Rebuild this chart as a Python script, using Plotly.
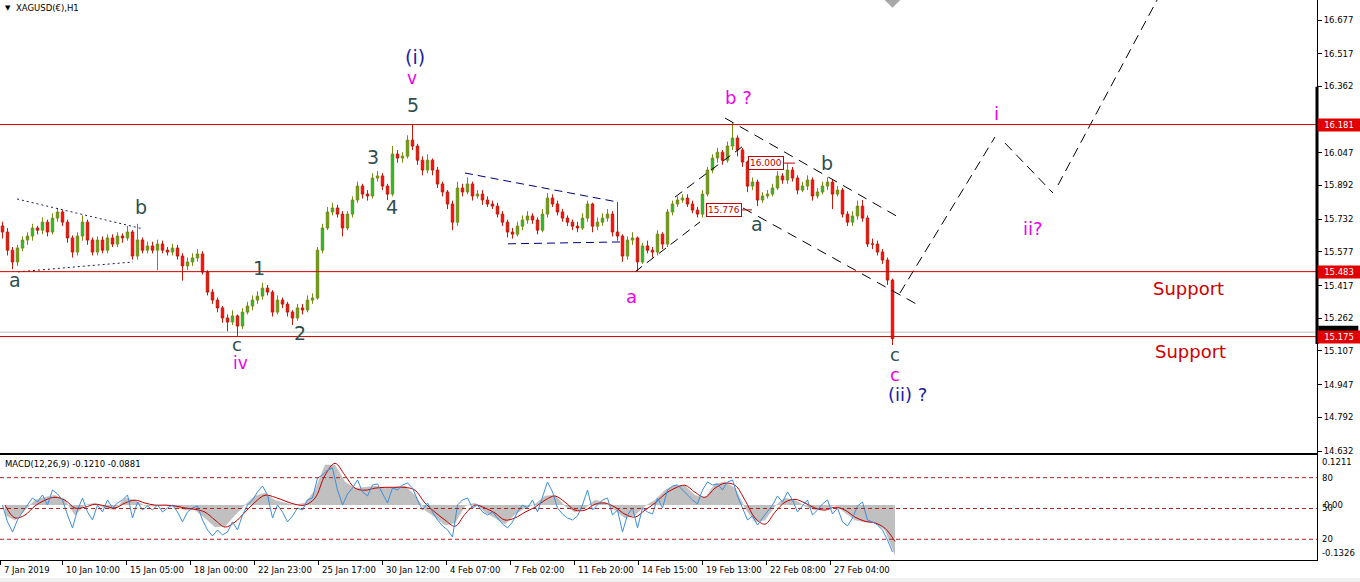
import plotly.graph_objects as go

# ---------------- DATA ----------------
HOURS_PER_BAR = 5          # each drawn candle summarises ~5 H1 bars
first_open = 15.70

close = [15.671, 15.585, 15.529, 15.595, 15.633, 15.652, 15.690, 15.680, 15.718, 15.671,
         15.737, 15.766, 15.718, 15.643, 15.576, 15.652, 15.718, 15.633, 15.576, 15.633,
         15.585, 15.643, 15.614, 15.652, 15.643, 15.671, 15.557, 15.633, 15.585, 15.605,
         15.585, 15.614, 15.585, 15.576, 15.595, 15.557, 15.510, 15.529, 15.548, 15.567,
         15.481, 15.386, 15.348, 15.311, 15.263, 15.244, 15.273, 15.225, 15.291, 15.320,
         15.348, 15.367, 15.405, 15.386, 15.291, 15.348, 15.329, 15.291, 15.263, 15.311,
         15.301, 15.348, 15.358, 15.585, 15.690, 15.766, 15.785, 15.756, 15.690, 15.756,
         15.823, 15.889, 15.851, 15.842, 15.927, 15.937, 15.889, 15.851, 16.041, 16.022,
         16.031, 16.107, 16.079, 16.012, 15.965, 16.012, 15.965, 15.899, 15.861, 15.804,
         15.718, 15.880, 15.861, 15.899, 15.842, 15.851, 15.823, 15.804, 15.794, 15.756,
         15.718, 15.671, 15.661, 15.699, 15.728, 15.747, 15.728, 15.680, 15.756, 15.832,
         15.804, 15.766, 15.737, 15.718, 15.699, 15.690, 15.737, 15.804, 15.699, 15.718,
         15.737, 15.756, 15.671, 15.652, 15.557, 15.633, 15.643, 15.529, 15.605, 15.585,
         15.576, 15.661, 15.614, 15.766, 15.804, 15.823, 15.832, 15.804, 15.775, 15.756,
         15.851, 15.965, 16.022, 16.050, 16.012, 16.079, 16.117, 16.060, 16.003, 15.889,
         15.908, 15.823, 15.842, 15.851, 15.880, 15.937, 15.918, 15.965, 15.927, 15.870,
         15.889, 15.918, 15.842, 15.861, 15.889, 15.908, 15.851, 15.870, 15.756, 15.718,
         15.747, 15.794, 15.737, 15.614, 15.614, 15.576, 15.538, 15.443, 15.165]

high = [15.72, 15.69, 15.60, 15.61, 15.65, 15.67, 15.71, 15.70, 15.74, 15.73,
        15.76, 15.785, 15.775, 15.73, 15.655, 15.67, 15.75, 15.73, 15.645, 15.65,
        15.65, 15.66, 15.66, 15.67, 15.665, 15.70, 15.68, 15.71, 15.645, 15.625,
        15.625, 15.635, 15.63, 15.60, 15.615, 15.61, 15.57, 15.55, 15.57, 15.59,
        15.58, 15.49, 15.40, 15.36, 15.32, 15.28, 15.30, 15.28, 15.31, 15.34,
        15.37, 15.39, 15.43, 15.42, 15.395, 15.37, 15.36, 15.34, 15.30, 15.33,
        15.33, 15.37, 15.38, 15.60, 15.71, 15.79, 15.81, 15.80, 15.77, 15.77,
        15.84, 15.91, 15.90, 15.87, 15.95, 15.96, 15.95, 15.90, 16.08, 16.06,
        16.05, 16.13, 16.181, 16.09, 16.03, 16.04, 16.02, 15.98, 15.91, 15.87,
        15.82, 15.91, 15.90, 15.93, 15.91, 15.87, 15.87, 15.84, 15.82, 15.81,
        15.77, 15.73, 15.69, 15.72, 15.75, 15.77, 15.76, 15.74, 15.78, 15.856,
        15.85, 15.82, 15.78, 15.75, 15.73, 15.72, 15.76, 15.82, 15.81, 15.74,
        15.76, 15.78, 15.77, 15.813, 15.66, 15.65, 15.67, 15.65, 15.62, 15.63,
        15.60, 15.68, 15.67, 15.78, 15.82, 15.84, 15.85, 15.85, 15.82, 15.79,
        15.87, 15.98, 16.04, 16.07, 16.06, 16.10, 16.193, 16.13, 16.07, 16.01,
        15.93, 15.92, 15.86, 15.87, 15.90, 15.96, 15.95, 15.998, 15.98, 15.94,
        15.91, 15.94, 15.93, 15.88, 15.91, 15.93, 15.92, 15.89, 15.88, 15.77,
        15.77, 15.82, 15.823, 15.75, 15.64, 15.63, 15.59, 15.55, 15.45]

low = [15.64, 15.56, 15.495, 15.51, 15.58, 15.61, 15.63, 15.66, 15.66, 15.65,
       15.66, 15.72, 15.70, 15.62, 15.55, 15.56, 15.63, 15.61, 15.56, 15.56,
       15.57, 15.57, 15.60, 15.60, 15.62, 15.63, 15.54, 15.54, 15.57, 15.57,
       15.57, 15.49, 15.57, 15.56, 15.56, 15.54, 15.44, 15.49, 15.51, 15.53,
       15.47, 15.37, 15.33, 15.29, 15.24, 15.20, 15.23, 15.178, 15.21, 15.28,
       15.30, 15.33, 15.35, 15.37, 15.27, 15.28, 15.31, 15.27, 15.23, 15.25,
       15.28, 15.29, 15.33, 15.35, 15.57, 15.68, 15.75, 15.74, 15.65, 15.68,
       15.74, 15.81, 15.83, 15.82, 15.83, 15.91, 15.87, 15.823, 15.84, 16.00,
       16.00, 16.02, 16.06, 15.99, 15.94, 15.95, 15.94, 15.88, 15.84, 15.78,
       15.68, 15.70, 15.84, 15.85, 15.82, 15.83, 15.80, 15.79, 15.78, 15.74,
       15.70, 15.645, 15.64, 15.65, 15.68, 15.71, 15.71, 15.66, 15.67, 15.74,
       15.79, 15.75, 15.72, 15.70, 15.68, 15.67, 15.68, 15.72, 15.67, 15.68,
       15.70, 15.72, 15.65, 15.63, 15.53, 15.54, 15.61, 15.486, 15.52, 15.57,
       15.55, 15.56, 15.59, 15.60, 15.75, 15.79, 15.81, 15.79, 15.76, 15.74,
       15.74, 15.84, 15.95, 16.00, 15.99, 16.00, 16.06, 16.03, 15.98, 15.86,
       15.87, 15.794, 15.81, 15.83, 15.84, 15.87, 15.90, 15.90, 15.91, 15.85,
       15.86, 15.87, 15.82, 15.83, 15.85, 15.87, 15.78, 15.84, 15.74, 15.70,
       15.70, 15.73, 15.72, 15.60, 15.59, 15.56, 15.52, 15.42, 15.135]

# MACD(12,26,9) window, sampled every 10 hours
MACD_STEP = 10
macd_main = [-0.024, -0.036, -0.012, 0.012, 0.019, 0.024, 0.012, -0.024, 0.000, 0.005,
             -0.007, -0.012, 0.017, 0.012, -0.002, -0.002, 0.000, -0.005, -0.012, -0.012,
             -0.031, -0.053, -0.051, -0.024, 0.000, 0.022, 0.029, 0.012, 0.005, 0.000,
             0.005, 0.036, 0.097, 0.097, 0.056, 0.041, 0.043, 0.046, 0.041, 0.043,
             0.046, 0.024, -0.012, -0.029, -0.048, -0.043, -0.002, 0.005, -0.017, -0.031,
             -0.046, -0.022, -0.007, 0.002, 0.022, 0.024, -0.002, -0.017, -0.007, 0.012,
             0.007, -0.012, -0.031, -0.024, -0.002, 0.012, 0.036, 0.048, 0.046, 0.024,
             0.017, 0.051, 0.056, 0.041, -0.007, -0.041, -0.036, -0.002, 0.017, 0.012,
             -0.002, -0.012, -0.010, 0.000, -0.019, -0.036, -0.041, -0.043, -0.060, -0.121]
macd_signal = [0.000, -0.031, -0.024, -0.002, 0.012, 0.019, 0.012, -0.007, -0.005, 0.002,
               -0.002, -0.007, 0.005, 0.012, 0.005, 0.000, 0.000, -0.002, -0.007, -0.010,
               -0.017, -0.036, -0.053, -0.041, -0.017, 0.007, 0.024, 0.019, 0.010, 0.002,
               0.000, 0.017, 0.072, 0.101, 0.072, 0.041, 0.036, 0.041, 0.043, 0.043,
               0.043, 0.036, 0.005, -0.017, -0.036, -0.051, -0.022, 0.000, -0.007, -0.019,
               -0.036, -0.031, -0.017, -0.005, 0.012, 0.022, 0.007, -0.012, -0.012, 0.002,
               0.005, -0.005, -0.022, -0.029, -0.012, 0.005, 0.027, 0.041, 0.048, 0.031,
               0.019, 0.041, 0.053, 0.048, 0.012, -0.031, -0.046, -0.017, 0.007, 0.014,
               0.005, -0.007, -0.012, -0.005, -0.012, -0.029, -0.039, -0.043, -0.056, -0.088]
# blue 0-100 oscillator drawn in the same window (levels 80/50/20)
oscillator = [53.4, 36.9, 27.1, 38.8, 46.6, 53.4, 60.2, 56.3, 63.2, 53.4,
              68.0, 64.1, 58.3, 43.7, 31.0, 48.5, 60.2, 46.6, 38.8, 53.4,
              46.6, 58.3, 50.5, 55.4, 58.3, 63.2, 40.7, 56.3, 48.5, 52.4,
              48.5, 53.4, 46.6, 50.5, 53.4, 46.6, 36.9, 46.6, 50.5, 52.4,
              38.8, 29.1, 23.2, 29.1, 24.2, 27.1, 36.9, 29.1, 43.7, 53.4,
              58.3, 66.1, 71.9, 63.2, 40.7, 53.4, 46.6, 36.9, 42.7, 50.5,
              48.5, 58.3, 60.2, 79.7, 82.6, 87.5, 89.4, 68.0, 53.4, 64.1,
              70.0, 77.8, 66.1, 62.2, 72.9, 73.9, 64.1, 55.4, 70.0, 68.0,
              72.9, 74.8, 70.0, 58.3, 48.5, 55.4, 46.6, 38.8, 33.0, 29.1,
              22.2, 53.4, 58.3, 60.2, 50.5, 53.4, 46.6, 43.7, 46.6, 40.7,
              34.9, 31.0, 36.9, 46.6, 53.4, 50.5, 58.3, 46.6, 60.2, 75.8,
              66.1, 50.5, 44.6, 40.7, 38.8, 42.7, 53.4, 68.0, 48.5, 53.4,
              58.3, 60.2, 43.7, 48.5, 27.1, 43.7, 50.5, 31.0, 50.5, 46.6,
              44.6, 60.2, 50.5, 68.0, 71.9, 72.9, 68.0, 63.2, 58.3, 54.4,
              68.0, 75.8, 72.9, 73.9, 68.0, 75.8, 77.8, 62.2, 50.5, 38.8,
              42.7, 33.9, 40.7, 46.6, 53.4, 62.2, 56.3, 66.1, 58.3, 46.6,
              52.4, 58.3, 43.7, 48.5, 54.4, 58.3, 44.6, 50.5, 36.9, 33.0,
              40.7, 52.4, 56.3, 38.8, 36.9, 33.9, 29.1, 19.3, 7.6]
osc_levels = [80, 50, 20]

# time axis (hour index of each label)
time_labels = ["7 Jan 2019", "10 Jan 10:00", "15 Jan 05:00", "18 Jan 00:00", "22 Jan 23:00",
               "25 Jan 17:00", "30 Jan 12:00", "4 Feb 07:00", "7 Feb 02:00", "11 Feb 20:00",
               "14 Feb 15:00", "19 Feb 13:00", "22 Feb 08:00", "27 Feb 04:00"]
time_pos = [0, 62, 126, 190, 254, 318, 382, 446, 510, 574, 638, 702, 766, 830]

# price axis (16.202 sits hidden behind the 16.181 level tag)
price_ticks = [16.677, 16.517, 16.362, 16.202, 16.047, 15.892, 15.732, 15.577, 15.417,
               15.262, 15.107, 14.947, 14.792, 14.632]
hidden_ticks = [16.202]
levels = [16.181, 15.483, 15.175]   # red horizontal lines
bid_price = 15.196

# wave labels: text, hour index, price, colour key, size
DARK, MAG, NAVY, RED = "#2F4F4F", "#EE00EE", "#1C1CA0", "#D00000"
wave_labels = [
    ("(i)", 415, 16.501, NAVY, 19), ("v", 412, 16.401, MAG, 17), ("5", 413, 16.273, DARK, 19),
    ("3", 373, 16.027, DARK, 19), ("4", 392, 15.789, DARK, 19), ("b", 141, 15.789, DARK, 19),
    ("a", 15, 15.443, DARK, 19), ("1", 259, 15.500, DARK, 19), ("2", 300, 15.192, DARK, 19),
    ("c", 237, 15.135, DARK, 18), ("iv", 240, 15.050, MAG, 17), ("a", 631, 15.363, MAG, 18),
    ("b ?", 738, 16.311, MAG, 18), ("a", 757, 15.709, DARK, 19), ("b", 827, 15.998, DARK, 19),
    ("c", 895, 15.092, DARK, 18), ("c", 895, 14.997, MAG, 18), ("(ii) ?", 907, 14.902, NAVY, 18),
    ("i", 996, 16.235, MAG, 18), ("ii?", 1033, 15.690, MAG, 18),
    ("Support", 1188, 15.405, RED, 18), ("Support", 1190, 15.106, RED, 18),
]

# drawn trend / projection lines: (hours, prices, colour, dash)
trend_lines = [
    ([17, 143], [15.828, 15.686], "#1A1A50", "2px,3px"),
    ([18, 133], [15.482, 15.529], "#1A1A50", "2px,3px"),
    ([465, 617], [15.951, 15.814], "#00007A", "8px,5px"),
    ([508, 620], [15.615, 15.624], "#00007A", "8px,5px"),
    ([635, 700], [15.482, 15.719], "black", "9px,6px"),
    ([675, 742], [15.837, 16.075], "black", "9px,6px"),
    ([725, 898], [16.212, 15.743], "black", "10px,7px"),
    ([743, 920], [15.785, 15.320], "black", "10px,7px"),
    ([900, 995], [15.382, 16.122], "black", "10px,6px"),
    ([1005, 1053], [16.093, 15.856], "black", "10px,6px"),
    ([1058, 1200], [15.894, 17.152], "black", "10px,6px"),
]
# price-label objects: text, hour centre, price, tail end hour
price_tags = [("16.000", 766, 15.998, 795), ("15.776", 724, 15.776, 752)]

# ---------------- FIGURE ----------------
x_bars = [HOURS_PER_BAR * i + HOURS_PER_BAR / 2 for i in range(len(close))]
opens = [first_open] + close[:-1]
x_macd = [MACD_STEP * i + MACD_STEP / 2 for i in range(len(macd_main))]

fig = go.Figure()
fig.add_trace(go.Candlestick(
    x=x_bars, open=opens, high=high, low=low, close=close,
    increasing=dict(line=dict(color="#7A8A10", width=1), fillcolor="#2EB82E"),
    decreasing=dict(line=dict(color="#C41A0A", width=1), fillcolor="#FF1010"),
    whiskerwidth=0, hoverinfo="skip", xaxis="x", yaxis="y"))

for xs, ys, col, dash in trend_lines:
    fig.add_trace(go.Scatter(x=xs, y=ys, mode="lines", hoverinfo="skip",
                             line=dict(color=col, width=1, dash=dash), xaxis="x", yaxis="y"))

for txt, xc, pr, xe in price_tags:
    fig.add_trace(go.Scatter(x=[xc + 17, xe], y=[pr, pr], mode="lines", hoverinfo="skip",
                             line=dict(color="#C00000", width=1), xaxis="x", yaxis="y"))

# shift marker at top
fig.add_trace(go.Scatter(x=[x_bars[-1]], y=[16.772], mode="markers", hoverinfo="skip",
                         marker=dict(symbol="diamond", size=12, color="#A8A8A8"),
                         xaxis="x", yaxis="y", cliponaxis=True))

# MACD window
fig.add_trace(go.Scatter(x=x_macd, y=macd_main, mode="lines", fill="tozeroy",
                         fillcolor="#C0C0C0", line=dict(color="#C0C0C0", width=0.5),
                         hoverinfo="skip", xaxis="x2", yaxis="y2"))
fig.add_trace(go.Scatter(x=x_macd, y=macd_signal, mode="lines", line=dict(color="#C00000", width=1),
                         line_shape="spline", hoverinfo="skip", xaxis="x2", yaxis="y2"))
fig.add_trace(go.Scatter(x=x_bars, y=oscillator, mode="lines", line=dict(color="#3C8EDB", width=1),
                         hoverinfo="skip", xaxis="x2", yaxis="y3"))

FONT = "DejaVu Sans"
axis_font = dict(family=FONT, size=8.5, color="black")
TAG_W = 40 / 1317  # width of an axis tag in paper units

shapes = []
for lv in levels:
    shapes.append(dict(type="line", xref="paper", x0=0, x1=1, yref="y", y0=lv, y1=lv,
                       line=dict(color="#D00000", width=1), layer="above"))
shapes.append(dict(type="line", xref="paper", x0=0, x1=1, yref="y", y0=bid_price, y1=bid_price,
                   line=dict(color="#C0C0C0", width=1), layer="below"))
# black bid tag peeking out behind the 15.175 tag
shapes.append(dict(type="rect", xref="paper", x0=1.001, x1=1.001 + TAG_W, yref="y",
                   y0=bid_price - 0.03, y1=bid_price + 0.03, fillcolor="black",
                   line=dict(width=0), layer="above"))
for lv in osc_levels:
    shapes.append(dict(type="line", xref="paper", x0=0, x1=1, yref="y3", y0=lv, y1=lv,
                       line=dict(color="#B02020", width=1, dash="4px,3px")))
shapes.append(dict(type="line", xref="paper", x0=1, x1=1, yref="y", y0=15.14, y1=16.36,
                   line=dict(color="black", width=3)))
shapes.append(dict(type="rect", xref="paper", x0=-0.01, x1=1.04, yref="paper", y0=-0.045, y1=-0.032,
                   fillcolor="#F0F0F0", line=dict(width=0)))

ann = []
for txt, xh, pr, col, sz in wave_labels:
    ann.append(dict(text=txt, x=xh, y=pr, xref="x", yref="y", showarrow=False,
                    font=dict(family=FONT, size=sz, color=col)))
for txt, xc, pr, xe in price_tags:
    ann.append(dict(text=txt, x=xc, y=pr, xref="x", yref="y", showarrow=False,
                    font=dict(family=FONT, size=9, color="#C00000"), bgcolor="white",
                    bordercolor="#C00000", borderwidth=1, borderpad=1))
for lv in levels:
    ann.append(dict(text=f"{lv:.3f}", x=1, y=lv, xref="paper", yref="y", xanchor="left",
                    showarrow=False, font=dict(family=FONT, size=8.5, color="white"),
                    bgcolor="#E00000", width=40, borderpad=1))
# time labels
for lab, pos in zip(time_labels, time_pos):
    ann.append(dict(text=lab, x=pos + 2, y=-0.018, xref="x2", yref="paper", xanchor="left",
                    yanchor="middle", showarrow=False, font=axis_font))
# MACD window labels
ann.append(dict(text="MACD(12,26,9) -0.1210 -0.0881", x=0.002, y=0.171, xref="paper", yref="paper",
                xanchor="left", yanchor="middle", showarrow=False, font=axis_font))
ann.append(dict(text="0.1211", x=1, y=0.1211, xref="paper", yref="y2", xanchor="left", yanchor="top",
                xshift=3, showarrow=False, font=axis_font))
ann.append(dict(text="-0.1326", x=1, y=-0.1326, xref="paper", yref="y2", xanchor="left",
                yanchor="bottom", xshift=3, showarrow=False, font=axis_font))
ann.append(dict(text="0.00", x=1, y=0, xref="paper", yref="y2", xanchor="left", xshift=5,
                showarrow=False, font=axis_font))
for lv in osc_levels:
    ann.append(dict(text=str(lv), x=1, y=lv, xref="paper", yref="y3", xanchor="left", xshift=3,
                    showarrow=False, font=axis_font))
# title
ann.append(dict(text="▼", x=0.002, y=0.986, xref="paper", yref="paper", xanchor="left",
                yanchor="middle", showarrow=False, font=dict(family=FONT, size=7, color="black")))
ann.append(dict(text="XAGUSD(€),H1", x=0.0105, y=0.986, xref="paper", yref="paper", xanchor="left",
                yanchor="middle", showarrow=False, font=axis_font))

fig.update_layout(
    template="none",
    width=1360, height=582, margin=dict(l=0, r=43, t=0, b=22, autoexpand=False),
    paper_bgcolor="white", plot_bgcolor="white", showlegend=False,
    xaxis=dict(domain=[0, 1], range=[0, 1317], anchor="y", showgrid=False, zeroline=False,
               showline=True, linecolor="black", linewidth=1, showticklabels=False, ticks="",
               rangeslider=dict(visible=False), automargin=False),
    yaxis=dict(domain=[0.19107, 1], range=[14.6225, 16.772], side="right", anchor="x",
               showgrid=False, zeroline=False, showline=True, linecolor="black", linewidth=1,
               tickvals=price_ticks,
               ticktext=["" if p in hidden_ticks else f"{p:.3f}" for p in price_ticks],
               ticks="outside", ticklen=4, tickcolor="black", tickfont=axis_font, automargin=False),
    xaxis2=dict(domain=[0, 1], range=[0, 1317], anchor="y2", showgrid=False, zeroline=False,
                showline=True, mirror=True, linecolor="black", linewidth=1,
                tickvals=time_pos, ticks="outside", ticklen=4, tickcolor="black",
                showticklabels=False, automargin=False),
    yaxis2=dict(domain=[0, 0.1875], range=[-0.1326, 0.1211], side="right", anchor="x2",
                showgrid=False, zeroline=False, showline=True, linecolor="black", linewidth=1,
                showticklabels=False, ticks="", automargin=False),
    yaxis3=dict(overlaying="y2", anchor="x2", range=[-0.2, 102.1], visible=False),
    shapes=shapes, annotations=ann,
)

fig.write_html("out.html", config={"displayModeBar": False},
               post_script="document.body.style.margin='0px';document.body.style.overflow='hidden';")
